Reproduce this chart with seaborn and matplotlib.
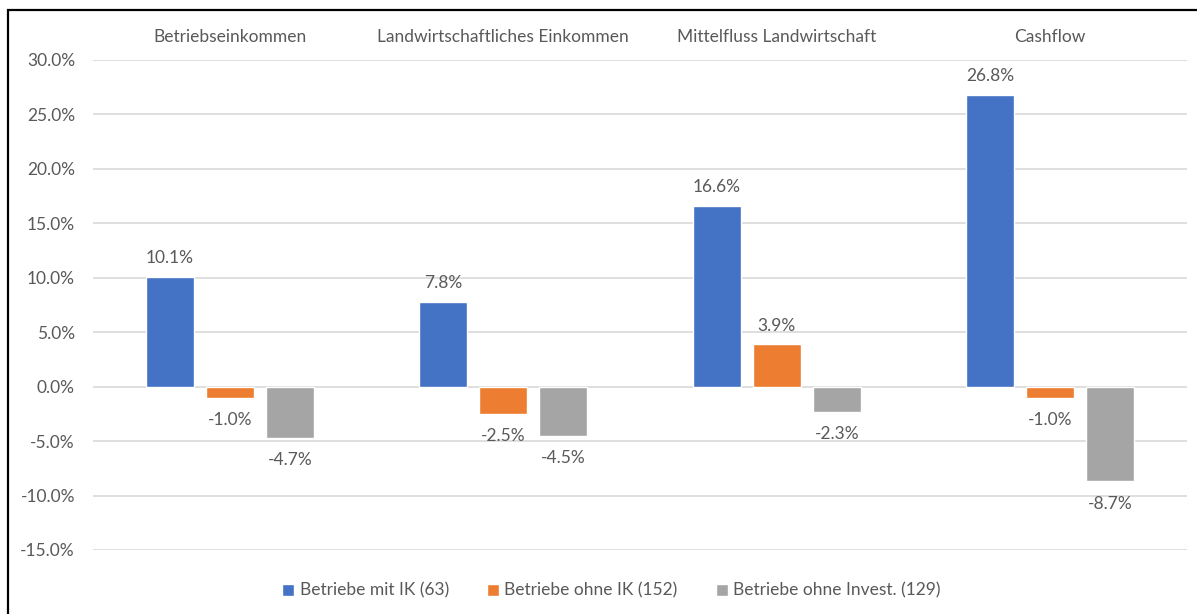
import pandas as pd
import matplotlib.pyplot as plt
import seaborn as sns
from matplotlib.patches import Rectangle

# === Data ===
categories = ["Betriebseinkommen", "Landwirtschaftliches Einkommen",
              "Mittelfluss Landwirtschaft", "Cashflow"]
groups = ["Betriebe mit IK (63)", "Betriebe ohne IK (152)", "Betriebe ohne Invest. (129)"]
mit_ik = [10.1, 7.8, 16.6, 26.8]
ohne_ik = [-1.0, -2.5, 3.9, -1.0]
ohne_invest = [-4.7, -4.5, -2.3, -8.7]
colors = ["#4472C4", "#ED7D31", "#A5A5A5"]

df = pd.DataFrame({
    "Kategorie": categories * 3,
    "Gruppe": [groups[0]] * 4 + [groups[1]] * 4 + [groups[2]] * 4,
    "Wert": mit_ik + ohne_ik + ohne_invest,
})

# === Style ===
sns.set_style("white")
plt.rcParams['font.family'] = ['Lato', 'DejaVu Sans']
text_col = "#595959"
fs = 12.5

fig = plt.figure(figsize=(11.97, 6.14), dpi=100)
ax = fig.add_axes([93 / 1197, 1 - 550 / 614, 1094 / 1197, 490 / 614])

sns.barplot(data=df, x="Kategorie", y="Wert", hue="Gruppe", hue_order=groups,
            palette=colors, width=0.66, gap=0.2, saturation=1, ax=ax)

# data labels: above positive bars, below negative ones
for cont in ax.containers:
    vals = cont.datavalues
    ax.bar_label(cont, labels=[f"{v:.1f}%" if v >= 0 else "" for v in vals],
                 padding=7.5, fontsize=fs, color=text_col)
    ax.bar_label(cont, labels=[f"{v:.1f}%" if v < 0 else "" for v in vals],
                 padding=10.5, fontsize=fs, color=text_col)

# === Axes ===
ax.set_ylim(-15, 30)
ax.set_yticks(range(-15, 31, 5))
ax.set_yticklabels([f"{v:.1f}%" for v in range(-15, 31, 5)])
ax.yaxis.grid(True, color="#D9D9D9", linewidth=1.2)
ax.set_axisbelow(True)
ax.xaxis.tick_top()
ax.tick_params(axis="x", length=0, pad=11, labelsize=fs, labelcolor=text_col)
ax.tick_params(axis="y", length=0, pad=13, labelsize=fs, labelcolor=text_col)
ax.set_xlabel("")
ax.set_ylabel("")
for s in ax.spines.values():
    s.set_visible(False)

ax.legend(loc="center", bbox_to_anchor=(0.474, -0.083), ncol=3, frameon=False,
          fontsize=fs, labelcolor=text_col, handlelength=0.7, handleheight=0.7,
          handletextpad=0.3, columnspacing=2.2)

# border round the chart
fig.patches.append(Rectangle((8 / 1197, -0.01), 1.02, 1 - 10 / 614 + 0.01,
                             transform=fig.transFigure, fill=False,
                             edgecolor="black", linewidth=1.6))

fig.savefig("out.png", dpi=100)
